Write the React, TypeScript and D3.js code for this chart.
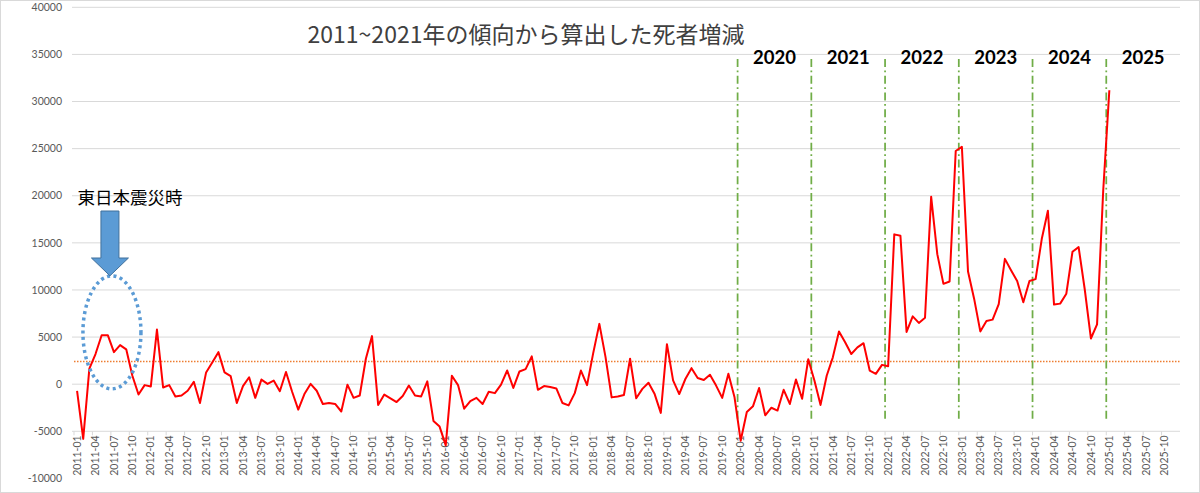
import { useEffect, useRef } from 'react';
import * as d3 from 'd3';

// Monthly categories 2011-01 .. 2025-12
const MONTHS: string[] = [];
for (let y = 2011; y <= 2025; y++) {
  for (let m = 1; m <= 12; m++) MONTHS.push(`${y}-${String(m).padStart(2, '0')}`);
}

// Excess deaths vs 2011~2021 trend, 2011-01 .. 2025-01
const EXCESS: number[] = [
  -700, -5800, 1650, 3200, 5200, 5200, 3400, 4150, 3700, 900, -1100, -100,
  -250, 5800, -350, -100, -1300, -1200, -700, 250, -2000, 1250, 2300, 3400,
  1250, 850, -2000, -200, 740, -1450, 490, 30, 380, -750, 1300, -800,
  -2700, -1050, 30, -700, -2100, -2000, -2100, -2900, -50, -1450, -1200, 2700,
  5100, -2200, -1100, -1500, -1900, -1250, -150, -1200, -1300, 300, -3900, -4500,
  -6500, 900, -100, -2600, -1800, -1450, -2100, -800, -950, -50, 1450, -400,
  1350, 1600, 2950, -600, -200, -300, -450, -2000, -2250, -950, 1450, -100,
  3300, 6400, 2900, -1400, -1300, -1150, 2700, -1500, -500, 150, -1050, -3050,
  4250, 400, -1050, 550, 1700, 650, 450, 1000, -150, -1450, 1100, -1400,
  -6000, -2950, -2350, -400, -3300, -2500, -2800, -600, -2100, 500, -1550, 2650,
  400, -2200, 900, 2850, 5600, 4450, 3200, 3900, 4350, 1450, 1100, 2050,
  1900, 15900, 15750, 5550, 7200, 6500, 7050, 19900, 13800, 10650, 10900, 24750,
  25200, 11950, 9050, 5600, 6700, 6850, 8500, 13300, 12100, 10950, 8700, 10950,
  11150, 15400, 18400, 8450, 8550, 9600, 14050, 14550, 10050, 4850, 6350, 20500,
  31200,
];

const Y_TICKS = [-10000, -5000, 0, 5000, 10000, 15000, 20000, 25000, 30000, 35000, 40000];
const YEAR_MARKS = ['2020', '2021', '2022', '2023', '2024', '2025'];
const BASELINE = 2400;

const TITLE = '2011~2021年の傾向から算出した死者増減';
const NOTE = '東日本震災時';

const W = 1200;
const H = 493;
const LATIN = 'Lato, Calibri, "Liberation Sans", sans-serif';
const CJK = '"Noto Sans CJK JP", "Noto Sans", sans-serif';

export default function App() {
  const svgRef = useRef<SVGSVGElement>(null);

  useEffect(() => {
    if (!svgRef.current) return;
    const svg = d3.select(svgRef.current);
    svg.selectAll('*').remove();

    const x = d3.scaleBand<string>().domain(MONTHS).range([74, 1180]).paddingInner(0);
    const y = d3.scaleLinear().domain([-10000, 40000]).range([478.4, 7.3]);
    const cx = (m: string) => (x(m) as number) + x.bandwidth() / 2;

    svg.append('rect')
      .attr('x', 0.5).attr('y', 0.5)
      .attr('width', W - 1).attr('height', H - 1)
      .attr('fill', '#fff').attr('stroke', '#d9d9d9');

    // Gridlines (none at the bottom, the month labels sit there)
    svg.append('g').selectAll('line')
      .data(Y_TICKS.filter(t => t > -10000))
      .join('line')
      .attr('x1', 72).attr('x2', 1180)
      .attr('y1', d => y(d)).attr('y2', d => y(d))
      .attr('stroke', '#d9d9d9').attr('stroke-width', 1);

    svg.append('g').selectAll('text')
      .data(Y_TICKS)
      .join('text')
      .attr('x', 62).attr('y', d => y(d))
      .attr('dy', '0.35em')
      .attr('text-anchor', 'end')
      .attr('font-family', LATIN).attr('font-size', 10.5)
      .attr('fill', '#595959')
      .text(d => d);

    // Category axis at -5000
    const axisY = y(-5000);
    const quarterly = MONTHS.filter((_, i) => i % 3 === 0);
    svg.append('g').selectAll('line')
      .data(quarterly)
      .join('line')
      .attr('x1', d => x(d) as number).attr('x2', d => x(d) as number)
      .attr('y1', axisY).attr('y2', axisY + 4)
      .attr('stroke', '#d9d9d9');

    svg.append('g').selectAll('text')
      .data(quarterly)
      .join('text')
      .attr('transform', d => `translate(${cx(d)},${axisY + 4}) rotate(-90)`)
      .attr('dy', '0.35em')
      .attr('text-anchor', 'end')
      .attr('font-family', LATIN).attr('font-size', 10.5)
      .attr('fill', '#595959')
      .text(d => d);

    // Trend baseline
    svg.append('line')
      .attr('x1', 74).attr('x2', 1180)
      .attr('y1', y(BASELINE)).attr('y2', y(BASELINE))
      .attr('stroke', '#ed7d31').attr('stroke-width', 1.5)
      .attr('stroke-dasharray', '1.5 1.5');

    // Year separators
    svg.append('g').selectAll('line')
      .data(YEAR_MARKS)
      .join('line')
      .attr('x1', d => x(`${d}-01`) as number).attr('x2', d => x(`${d}-01`) as number)
      .attr('y1', y(34500)).attr('y2', y(-3800))
      .attr('stroke', '#70ad47').attr('stroke-width', 1.75)
      .attr('stroke-dasharray', '8 3.5 1.75 3.5');

    svg.append('g').selectAll('text')
      .data(YEAR_MARKS)
      .join('text')
      .attr('x', d => (x(`${d}-01`) as number) + x.bandwidth() * 6)
      .attr('y', y(34000))
      .attr('text-anchor', 'middle')
      .attr('font-family', LATIN).attr('font-weight', 700).attr('font-size', 18.5)
      .attr('fill', '#000')
      .text(d => d);

    // Series
    const line = d3.line<number>()
      .x((_, i) => cx(MONTHS[i]))
      .y(d => y(d));

    svg.append('path')
      .datum(EXCESS)
      .attr('d', line)
      .attr('fill', 'none')
      .attr('stroke', '#ff0000')
      .attr('stroke-width', 2)
      .attr('stroke-linejoin', 'round');

    // Title
    svg.append('text')
      .attr('x', 526).attr('y', 43)
      .attr('text-anchor', 'middle')
      .attr('font-family', CJK).attr('font-size', 23)
      .attr('fill', '#404040')
      .text(TITLE);

    // Earthquake annotation
    const ex = cx('2011-07') - 2;
    const ey = y(5500);
    const ery = y(5500) - y(11500);
    svg.append('ellipse')
      .attr('cx', ex).attr('cy', ey)
      .attr('rx', 29).attr('ry', ery)
      .attr('fill', 'none')
      .attr('stroke', '#5b9bd5').attr('stroke-width', 3.5)
      .attr('stroke-dasharray', '3 3.5');

    const ax = ex - 2;
    const tip = ey - ery;
    const arrow = d3.path();
    arrow.moveTo(ax - 9, 211);
    arrow.lineTo(ax + 9, 211);
    arrow.lineTo(ax + 9, 258);
    arrow.lineTo(ax + 18.5, 258);
    arrow.lineTo(ax, tip);
    arrow.lineTo(ax - 18.5, 258);
    arrow.lineTo(ax - 9, 258);
    arrow.closePath();
    svg.append('path')
      .attr('d', arrow.toString())
      .attr('fill', '#5b9bd5')
      .attr('stroke', '#41719c').attr('stroke-width', 1);

    svg.append('text')
      .attr('x', 130).attr('y', 204)
      .attr('text-anchor', 'middle')
      .attr('font-family', CJK).attr('font-size', 17.5)
      .attr('fill', '#000')
      .text(NOTE);
  }, []);

  return (
    <svg
      ref={svgRef}
      width={W}
      height={H}
      viewBox={`0 0 ${W} ${H}`}
      style={{ position: 'absolute', top: 0, left: 0, display: 'block' }}
    />
  );
}
